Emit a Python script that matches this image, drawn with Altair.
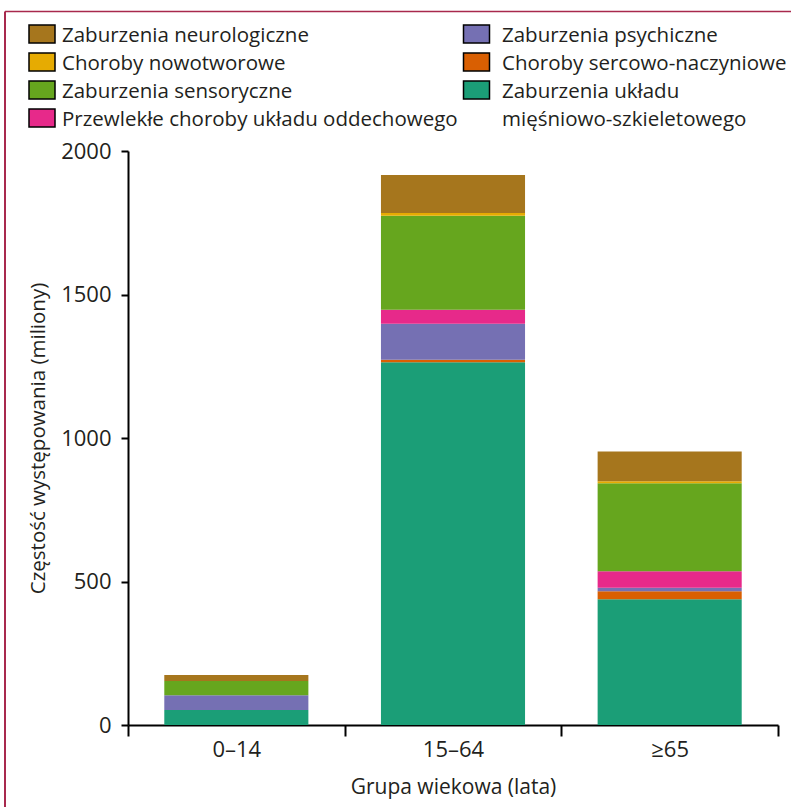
import altair as alt
import pandas as pd

# ---------------- data ----------------
groups = ["0–14", "15–64", "≥65"]

categories = [
    "Zaburzenia układu mięśniowo-szkieletowego",
    "Choroby sercowo-naczyniowe",
    "Zaburzenia psychiczne",
    "Przewlekłe choroby układu oddechowego",
    "Zaburzenia sensoryczne",
    "Choroby nowotworowe",
    "Zaburzenia neurologiczne",
]
colors = ["#1b9e77", "#d95f02", "#7570b3", "#e7298a", "#66a61e", "#e6ab02", "#a6761d"]

musculo = [52, 1264, 438]
cardio = [0, 9, 28]
psych = [52, 125, 12]
resp = [0, 49, 58]
sensory = [49, 327, 306]
cancer = [0, 10, 7]
neuro = [21, 132, 104]
series = [musculo, cardio, psych, resp, sensory, cancer, neuro]

y_ticks = [0, 500, 1000, 1500, 2000]

# legend (two columns, as in the original figure)
legend_items = [
    "Zaburzenia neurologiczne",
    "Choroby nowotworowe",
    "Zaburzenia sensoryczne",
    "Przewlekłe choroby układu oddechowego",
    "Zaburzenia psychiczne",
    "Choroby sercowo-naczyniowe",
    "Zaburzenia układu mięśniowo-szkieletowego",
]
legend_text = [
    "Zaburzenia neurologiczne",
    "Choroby nowotworowe",
    "Zaburzenia sensoryczne",
    "Przewlekłe choroby układu oddechowego",
    "Zaburzenia psychiczne",
    "Choroby sercowo-naczyniowe",
    "Zaburzenia układu\nmięśniowo-szkieletowego",
]
legend_col = [0, 0, 0, 0, 1, 1, 1]
legend_row = [0, 1, 2, 3, 0, 1, 2]

# ---------------- tables ----------------
rows = []
for k, (cat, vals) in enumerate(zip(categories, series)):
    for g, v in zip(groups, vals):
        rows.append({"group": g, "category": cat, "value": v, "order": k})
df = pd.DataFrame(rows)

sym_df = pd.DataFrame({"category": legend_items, "col": legend_col, "row": legend_row})
txt_rows = []
for cat, txt, c, r in zip(legend_items, legend_text, legend_col, legend_row):
    for j, line in enumerate(txt.split("\n")):
        txt_rows.append({"text": line, "col": c, "row": r + j})
txt_df = pd.DataFrame(txt_rows)

FONT = "Open Sans"
TXT = "#231f20"

color_scale = alt.Scale(domain=categories, range=colors)

bars = alt.Chart(df).mark_bar(width=alt.RelativeBandSize(0.665)).encode(
    x=alt.X(
        "group:N",
        sort=groups,
        scale=alt.Scale(paddingInner=0, paddingOuter=0),
        axis=alt.Axis(
            title="Grupa wiekowa (lata)",
            tickBand="extent",
            labelAngle=0,
            tickSize=11,
            labelPadding=3,
            titlePadding=16,
            titleFontSize=21,
        ),
    ),
    y=alt.Y(
        "value:Q",
        stack="zero",
        scale=alt.Scale(domain=[0, 2000], nice=False),
        axis=alt.Axis(
            title="Częstość występowania (miliony)",
            values=y_ticks,
            format="d",
            tickSize=7,
            labelPadding=10,
            titlePadding=12,
            titleFontSize=20.5,
        ),
    ),
    color=alt.Color("category:N", scale=color_scale, legend=None),
    order=alt.Order("order:Q", sort="ascending"),
)

leg_sym = alt.Chart(sym_df).mark_point(
    shape="M-1,-0.69H1V0.69H-1Z",
    filled=True,
    size=676,
    stroke="black",
    strokeWidth=1.5,
    opacity=1,
).encode(
    x=alt.X("col:Q", scale=alt.Scale(domain=[0, 1], range=[-86, 348.5], zero=False, nice=False), axis=None),
    y=alt.Y("row:Q", scale=alt.Scale(domain=[0, 3], range=[-117, -33], zero=False, nice=False), axis=None),
    fill=alt.Color("category:N", scale=color_scale, legend=None),
)

leg_txt = alt.Chart(txt_df).mark_text(
    align="left", baseline="middle", fontSize=20.5, font=FONT, color=TXT
).encode(
    x=alt.X("col:Q", scale=alt.Scale(domain=[0, 1], range=[-66, 374], zero=False, nice=False), axis=None),
    y=alt.Y("row:Q", scale=alt.Scale(domain=[0, 3], range=[-115, -31], zero=False, nice=False), axis=None),
    text="text:N",
)

frame_src = pd.DataFrame({"k": [0]})
frame_top = alt.Chart(frame_src).mark_rule(color="#a8294d", strokeWidth=1.5).encode(
    x=alt.value(-123), x2=alt.value(663), y=alt.value(-139.5)
)
frame_left = alt.Chart(frame_src).mark_rule(color="#a8294d", strokeWidth=2).encode(
    x=alt.value(-123), y=alt.value(-139.5), y2=alt.value(656)
)

chart = (
    alt.layer(bars, leg_sym, leg_txt, frame_top, frame_left)
    .resolve_scale(x="independent", y="independent")
    .properties(
        width=650,
        height=574,
        autosize=alt.AutoSizeParams(type="none"),
        padding={"left": 128, "top": 151, "right": 13, "bottom": 82},
        background="white",
    )
    .configure_view(stroke=None)
    .configure_axis(
        domainColor="black",
        domainWidth=2,
        tickColor="black",
        tickWidth=2,
        grid=False,
        labelFont=FONT,
        labelFontSize=22,
        labelColor=TXT,
        titleFont=FONT,
        titleFontSize=20,
        titleFontWeight="normal",
        titleColor=TXT,
    )
)

chart.save("out.html", embed_options={"renderer": "svg", "actions": False})
